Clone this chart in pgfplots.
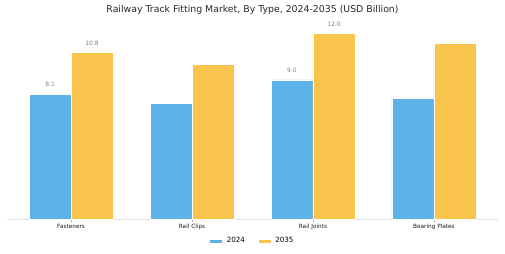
\documentclass[border=0pt]{standalone}
\usepackage{pgfplots}
\pgfplotsset{compat=1.18}
\usepackage{fontspec}
\setmainfont{DejaVu Sans}
\definecolor{cblue}{HTML}{5DB3E7}
\definecolor{cyellow}{HTML}{F9C44B}
\begin{document}
\begin{tikzpicture}[x=1bp,y=1bp]
\useasboundingbox (0,0) rectangle (505,253);
\node[font=\fontsize{9.4}{10}\selectfont, text=black!85] at (252.5,243) {Railway Track Fitting Market, By Type, 2024-2035 (USD Billion)};
\begin{axis}[
  at={(7bp,34bp)}, anchor=south west,
  scale only axis, width=491bp, height=204bp,
  xmin=-0.53, xmax=3.53, ymin=0, ymax=13.2,
  axis x line=bottom, axis y line=none,
  axis line style={draw=black!12, line width=0.6bp, -},
  xtick={0,1,2,3},
  xticklabels={Fasteners, Rail Clips, Rail Joints, Bearing Plates},
  x tick label style={font=\fontsize{5.8}{6.5}\selectfont, text=black!90, yshift=1bp},
  major tick length=2.5bp,
  tick style={draw=black!30, line width=0.4bp},
  clip=false,
  ybar, bar width=0.347,
  point meta=explicit symbolic,
  nodes near coords,
  nodes near coords style={font=\fontsize{6}{6.5}\selectfont, text=black!50, anchor=south, yshift=3.5bp},
  legend style={at={(0.5,-0.108)}, anchor=center, draw=none, fill=none,
    font=\fontsize{7.2}{8}\selectfont, legend columns=2,
    /tikz/every odd column/.append style={column sep=2bp},
    /tikz/every even column/.append style={column sep=11bp}},
  legend image code/.code={\fill[#1] (0bp,-2.2bp) rectangle (13bp,2.2bp);},
]
\addplot[fill=cblue, draw=white, line width=0.3bp, bar shift=-0.1735] coordinates {(0,8.1)[8.1] (1,7.5)[] (2,9.0)[9.0] (3,7.8)[]};
\addplot[fill=cyellow, draw=white, line width=0.3bp, bar shift=0.1735] coordinates {(0,10.8)[10.8] (1,10.0)[] (2,12.0)[12.0] (3,11.4)[]};
\legend{2024, 2035}
\end{axis}
\end{tikzpicture}
\end{document}
